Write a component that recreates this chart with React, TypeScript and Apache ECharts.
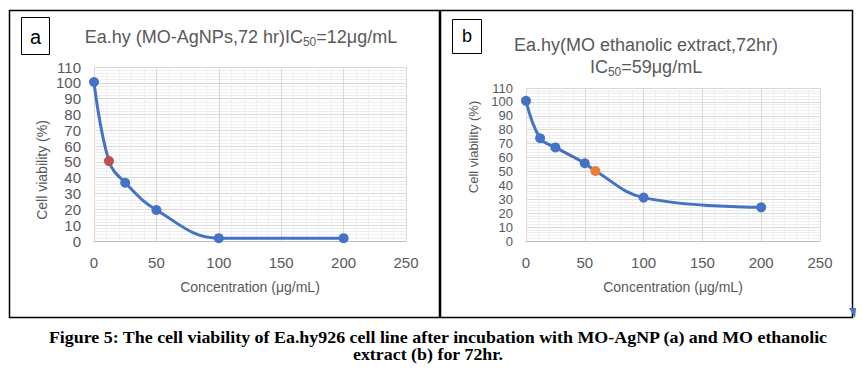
import React, { useEffect, useRef } from "react";
import * as echarts from "echarts";

// Panel a: MO-AgNPs
const concA = [0, 12, 25, 50, 100, 200];
const viabA = [100.5, 50.5, 36.8, 19.6, 1.8, 1.8];
const ic50IndexA = 1;

// Panel b: MO ethanolic extract
const concB = [0, 12, 25, 50, 59, 100, 200];
const viabB = [100.8, 73.9, 67.3, 55.9, 50.3, 31.2, 24.2];
const ic50IndexB = 4;

const xTicks = [0, 50, 100, 150, 200, 250];
const yMax = 110;

const titleA = "{m|Ea.hy (MO-AgNPs,72 hr)IC}{s|50}{m|=12μg/mL}";
const titleB1 = "Ea.hy(MO ethanolic extract,72hr)";
const titleB2 = "{m|IC}{s|50}{m|=59μg/mL}";
const xName = "Concentration (μg/mL)";
const yName = "Cell viability (%)";
const caption1 =
  "Figure 5: The cell viability of Ea.hy926 cell line after incubation with MO-AgNP (a) and MO ethanolic";
const caption2 = "extract (b) for 72hr.";

const BLUE = "#4472c4";
const GREY = "#595959";
const FONT = "Liberation Sans, Arial, sans-serif";
const SERIF = "Liberation Serif, Times New Roman, serif";

export default function App() {
  const ref = useRef<HTMLDivElement>(null);
  useEffect(() => {
    document.body.style.margin = "0";
    const chart = echarts.init(ref.current!, null, { renderer: "svg" });

    const xAxisBase = (gridIndex: number) => ({
      type: "value" as const,
      gridIndex,
      min: xTicks[0],
      max: xTicks[xTicks.length - 1],
      interval: 50,
      axisLine: { show: true, lineStyle: { color: "#bfbfbf", width: 1 } },
      axisTick: { show: false },
      axisLabel: { color: GREY, fontSize: 15, fontFamily: FONT, margin: 14 },
      splitLine: { show: true, lineStyle: { color: "#d9d9d9", width: 1 } },
      minorTick: { show: false, splitNumber: 5 },
      minorSplitLine: { show: true, lineStyle: { color: "#eeeeee", width: 1 } },
    });
    const yAxisBase = (gridIndex: number, fs: number) => ({
      type: "value" as const,
      gridIndex,
      min: 0,
      max: yMax,
      interval: 10,
      axisLine: { show: true, lineStyle: { color: "#d9d9d9", width: 1 } },
      axisTick: { show: false },
      axisLabel: { color: GREY, fontSize: fs, fontFamily: FONT, margin: 13 },
      splitLine: { show: true, lineStyle: { color: "#d9d9d9", width: 1 } },
      minorTick: { show: false, splitNumber: 5 },
      minorSplitLine: { show: true, lineStyle: { color: "#eeeeee", width: 1 } },
    });

    const mkData = (xs: number[], ys: number[], hi: number, hiColor: string) =>
      xs.map((x, i) =>
        i === hi ? { value: [x, ys[i]], itemStyle: { color: hiColor } } : { value: [x, ys[i]] }
      );

    const txt = (x: number, y: number, text: string, fontSize: number, extra: any = {}) => ({
      type: "text",
      x,
      y,
      ...extra,
      style: {
        text,
        fontSize,
        fontFamily: FONT,
        fill: GREY,
        align: "center",
        verticalAlign: "middle",
        ...(extra.style || {}),
      },
    });

    const caption = (x: number, y: number, text: string) => ({
      type: "text",
      x,
      y,
      scaleX: 1.12,
      style: {
        text,
        fontSize: 16,
        fontWeight: "bold",
        fontFamily: SERIF,
        fill: "#000",
        align: "center",
        verticalAlign: "middle",
      },
    });

    chart.setOption({
      animation: false,
      backgroundColor: "#ffffff",
      grid: [
        { left: 94, top: 67, width: 312, height: 174 },
        { left: 526, top: 88, width: 294, height: 153 },
      ],
      xAxis: [xAxisBase(0), xAxisBase(1)],
      yAxis: [yAxisBase(0, 15), yAxisBase(1, 13)],
      series: [
        {
          type: "line",
          xAxisIndex: 0,
          yAxisIndex: 0,
          smooth: 0.4,
          symbol: "circle",
          symbolSize: 10,
          lineStyle: { color: BLUE, width: 3 },
          itemStyle: { color: BLUE },
          data: mkData(concA, viabA, ic50IndexA, "#c0504d"),
          z: 3,
        },
        {
          type: "line",
          xAxisIndex: 1,
          yAxisIndex: 1,
          smooth: 0.4,
          symbol: "circle",
          symbolSize: 10,
          lineStyle: { color: BLUE, width: 3 },
          itemStyle: { color: BLUE },
          data: mkData(concB, viabB, ic50IndexB, "#ed7d31"),
          z: 3,
        },
      ],
      graphic: [
        {
          type: "rect",
          shape: { x: 9.5, y: 10.5, width: 430, height: 307 },
          style: { fill: "none", stroke: "#000", lineWidth: 1.5 },
        },
        {
          type: "rect",
          shape: { x: 440.5, y: 10.5, width: 412, height: 307 },
          style: { fill: "none", stroke: "#000", lineWidth: 1.5 },
        },
        {
          type: "rect",
          shape: { x: 21.5, y: 17.5, width: 28, height: 37 },
          style: { fill: "#fff", stroke: "#000", lineWidth: 1 },
        },
        {
          type: "rect",
          shape: { x: 452.5, y: 19.5, width: 29, height: 34 },
          style: { fill: "#fff", stroke: "#000", lineWidth: 1 },
        },
        txt(35.5, 37, "a", 20, { style: { fill: "#000" } }),
        txt(467, 36, "b", 18, { style: { fill: "#000" } }),
        {
          type: "text",
          x: 241,
          y: 37,
          style: {
            text: titleA,
            align: "center",
            verticalAlign: "middle",
            rich: {
              m: { fontSize: 18, fontFamily: FONT, fill: GREY, lineHeight: 22 },
              s: { fontSize: 12, fontFamily: FONT, fill: GREY, lineHeight: 10, verticalAlign: "bottom" },
            },
          },
        },
        txt(646, 45, titleB1, 18),
        {
          type: "text",
          x: 646,
          y: 67,
          style: {
            text: titleB2,
            align: "center",
            verticalAlign: "middle",
            rich: {
              m: { fontSize: 18, fontFamily: FONT, fill: GREY, lineHeight: 22 },
              s: { fontSize: 12, fontFamily: FONT, fill: GREY, lineHeight: 10, verticalAlign: "bottom" },
            },
          },
        },
        txt(250, 287, xName, 14),
        txt(673, 287, xName, 14),
        txt(42, 170, yName, 14, { rotation: Math.PI / 2 }),
        txt(473, 147, yName, 13, { rotation: Math.PI / 2 }),
        {
          type: "polygon",
          shape: { points: [[849, 308], [856, 308], [855, 318]] },
          style: { fill: BLUE },
        },
        caption(438, 338, caption1),
        caption(428, 355, caption2),
      ],
    });
    return () => chart.dispose();
  }, []);
  return <div ref={ref} style={{ width: 863, height: 379 }} />;
}
